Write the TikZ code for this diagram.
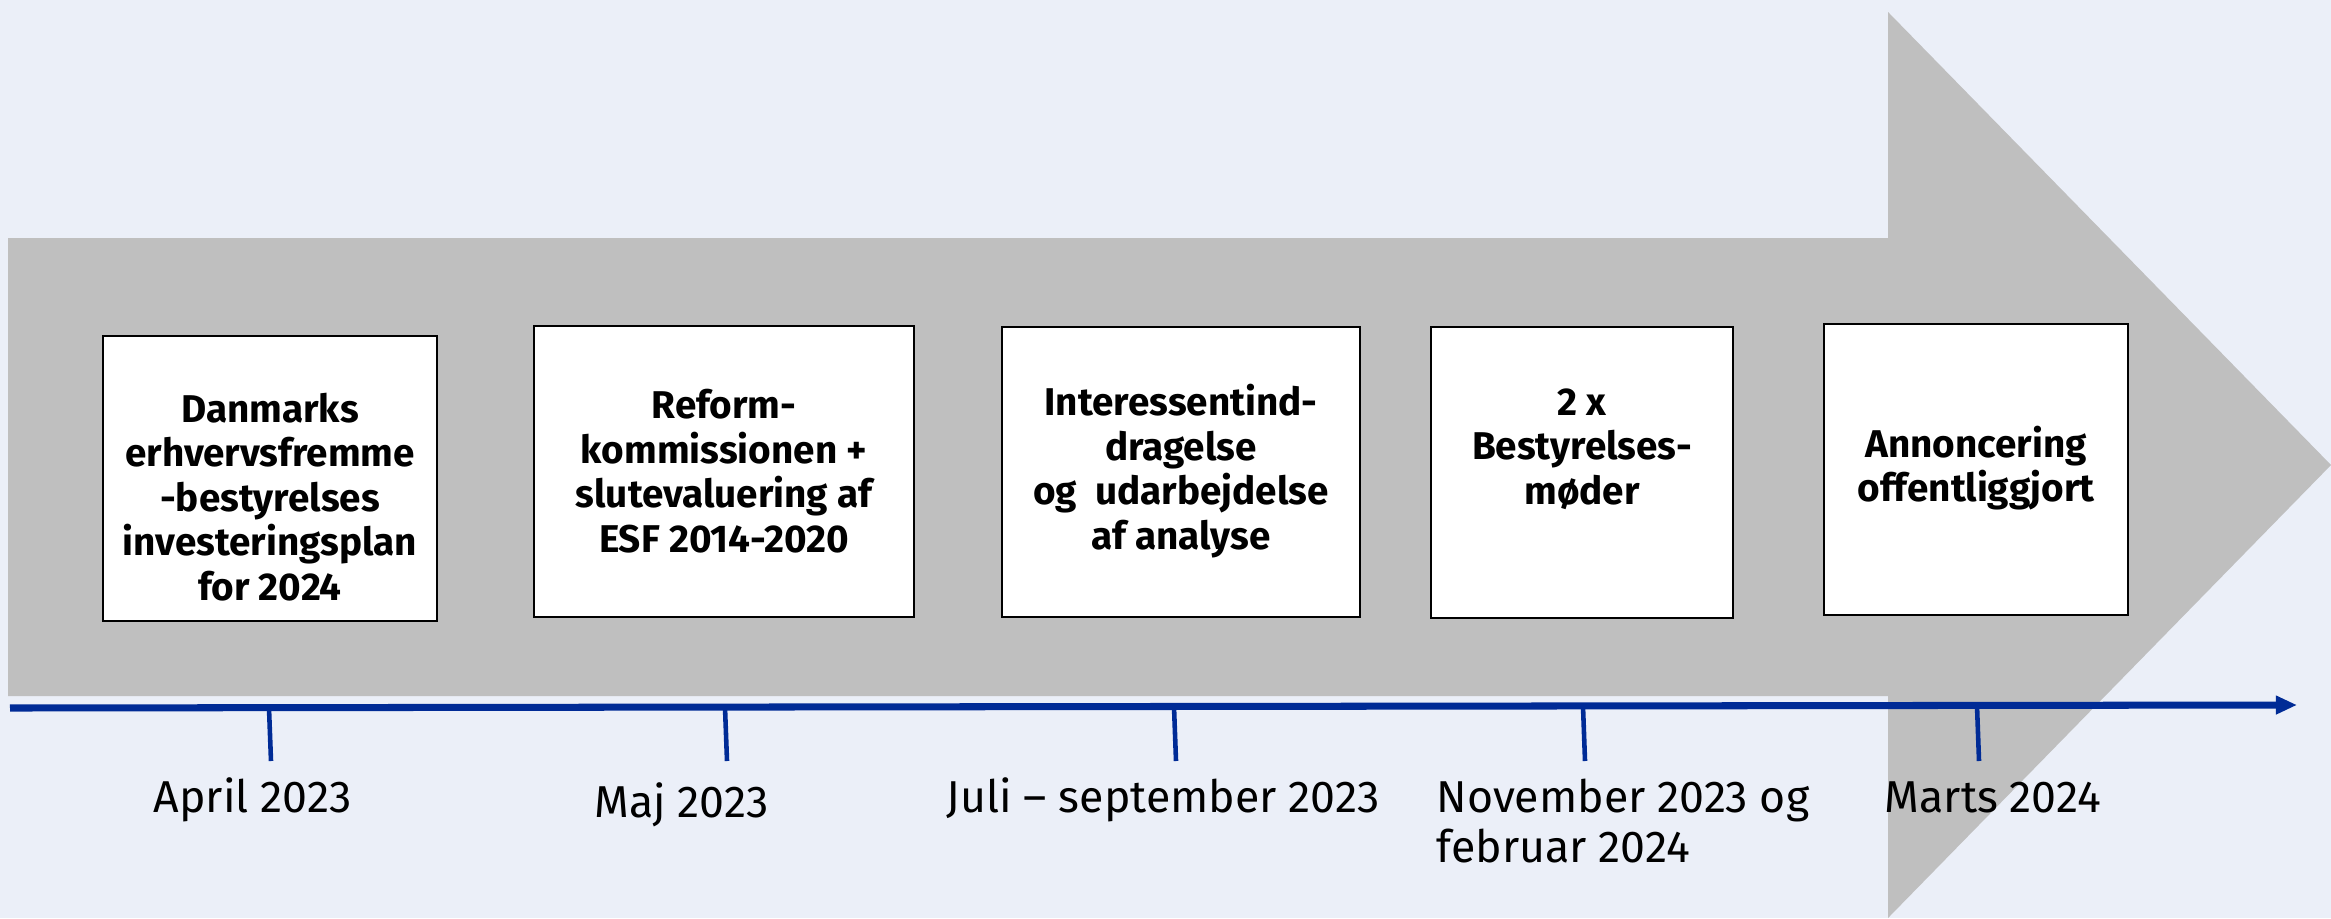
\documentclass[tikz,border=0pt]{standalone}
\usepackage{fontspec}
\setmainfont{Fira Sans}
\usetikzlibrary{arrows.meta}
\definecolor{bgc}{RGB}{235,239,248}
\definecolor{arrgray}{RGB}{191,191,191}
\definecolor{axisblue}{RGB}{0,43,150}
\tikzset{
  stagebox/.style={draw=black, line width=0.6pt, fill=white, inner sep=0pt, rectangle},
  stagetext/.style={align=center, inner sep=0pt, font=\bfseries\fontsize{11}{12.66}\selectfont},
  datelabel/.style={align=left, inner sep=0pt, anchor=base west, font=\fontsize{12.7}{14.2}\selectfont},
  tickline/.style={draw=axisblue, line width=1.3pt},
}
\begin{document}
\begin{tikzpicture}[x=0.01cm, y=-0.01cm]
\useasboundingbox (0,0) rectangle (2331,918);
\fill[bgc] (0,0) rectangle (2331,918);
% big arrow
\fill[arrgray] (8,238) -- (1888,238) -- (1888,12) -- (2331,465) -- (1888,918) -- (1888,696) -- (8,696) -- cycle;
% boxes
\node[stagebox, minimum width=3.34cm, minimum height=2.85cm] (b1) at (270,478.5) {};
\node[stagebox, minimum width=3.80cm, minimum height=2.91cm] (b2) at (724,471.5) {};
\node[stagebox, minimum width=3.58cm, minimum height=2.90cm] (b3) at (1181,472) {};
\node[stagebox, minimum width=3.02cm, minimum height=2.91cm] (b4) at (1582,472.5) {};
\node[stagebox, minimum width=3.03cm, minimum height=2.91cm] (b5) at (1976,469.5) {};
\node[stagetext] (t1) at (270,497) {Danmarks\\erhvervsfremme\\-bestyrelses\\investeringsplan\\for 2024};
\node[stagetext] (t2) at (724,471) {Reform-\\kommissionen +\\slutevaluering af\\ESF 2014-2020};
\node[stagetext] (t3) at (1181,471) {Interessentind-\\dragelse\\og\ \ udarbejdelse\\af analyse};
\node[stagetext] (t4) at (1582,449) {2 x\\Bestyrelses-\\møder};
\node[stagetext] (t5) at (1976,468) {Annoncering\\offentliggjort};
% axis
\coordinate (axL) at (10,708);
\coordinate (axR) at (2297,705);
\draw[draw=axisblue, line width=2pt, -{Triangle[length=6pt,width=5pt]}] (axL) -- (axR);
% ticks
\foreach \i/\x/\y in {1/269/708, 2/725/707.5, 3/1174/707, 4/1583/706.5, 5/1977/706}{
  \coordinate (k\i) at (\x,\y);
  \coordinate (e\i) at (\x+2,761);
  \draw[tickline] (k\i) -- (e\i);
}
% labels
\node[datelabel] (l1) at (153,812) {April 2023};
\node[datelabel] (l2) at (594,817) {Maj 2023};
\node[datelabel] (l3) at (946,812) {Juli – september 2023};
\node[datelabel] (l4) at (1436,862) {November 2023 og\\februar 2024};
\node[datelabel] (l5) at (1884,812) {Marts 2024};
\end{tikzpicture}
\end{document}
